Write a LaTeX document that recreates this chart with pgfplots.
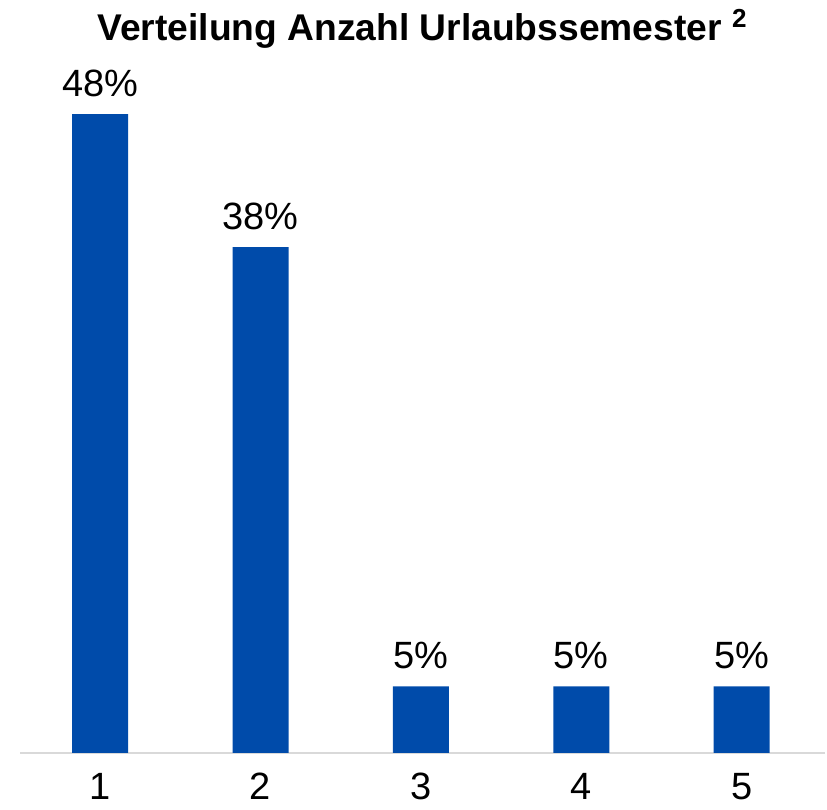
\documentclass[border=0pt]{standalone}
\usepackage{fontspec}
\setmainfont{Liberation Sans}
\usepackage{pgfplots}
\pgfplotsset{compat=1.18}
\definecolor{barblue}{HTML}{004BAA}
\definecolor{baseline}{HTML}{D9D9D9}

\begin{document}
\begin{tikzpicture}
\path[use as bounding box] (-10pt,-25.5pt) rectangle (403.5pt,379.5pt);
\begin{axis}[
  at={(0,3pt)}, anchor=origin,
  scale only axis,
  width=402.5pt,
  height=346.5pt,
  xmin=0.5, xmax=5.52,
  ymin=0, ymax=52.06,
  axis x line*=bottom,
  axis y line=none,
  x axis line style={-, draw=baseline, line width=1pt},
  xtick={1,2,3,4,5},
  major tick length=0pt,
  xticklabel style={font=\fontsize{19}{22}\selectfont, inner sep=0pt, anchor=north, yshift=-10pt},
  /pgf/number format/assume math mode=true,
  ybar,
  bar width=28pt,
  nodes near coords={\pgfmathprintnumber{\pgfplotspointmeta}\%},
  nodes near coords style={font=\fontsize{19}{22}\selectfont, black, yshift=5pt},
  clip=false,
]
  \addplot[fill=barblue, draw=none] coordinates {(1,48) (2,38) (3,5) (4,5) (5,5)};
\end{axis}
\node[font=\bfseries\fontsize{18.6}{22}\selectfont] at (201.25pt,365pt) {Verteilung Anzahl Urlaubssemester \textsuperscript{2}};
\end{tikzpicture}
\end{document}
